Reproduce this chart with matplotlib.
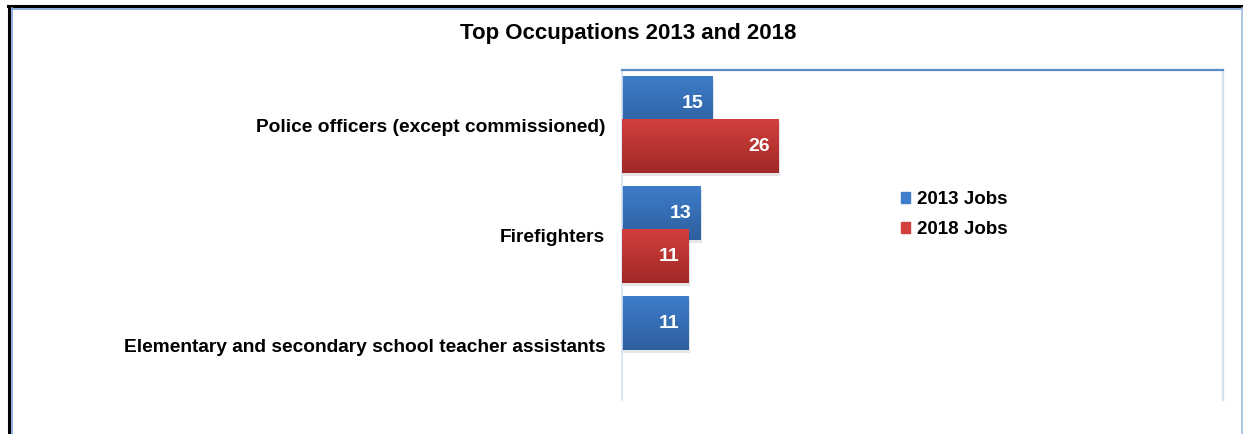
import matplotlib
matplotlib.use("Agg")
import matplotlib.pyplot as plt
import numpy as np
from matplotlib.lines import Line2D

categories = ["Police officers (except commissioned)", "Firefighters",
              "Elementary and secondary school teacher assistants"]
jobs_2013 = [15, 13, 11]
jobs_2018 = [26, 11, 0]
series_names = ["2013 Jobs", "2018 Jobs"]
title = "Top Occupations 2013 and 2018"

plt.rcParams['font.family'] = ['Liberation Sans', 'DejaVu Sans']

W, H = 1243, 434
fig = plt.figure(figsize=(W / 100, H / 100), dpi=100)
ax = fig.add_axes([622 / W, 1 - 400 / H, (1223 - 622) / W, (400 - 70) / H])

y = np.arange(len(categories))
h = 0.49
off = 0.195
blue_top, blue_bot = np.array([0.24, 0.49, 0.79]), np.array([0.18, 0.37, 0.62])
red_top, red_bot = np.array([0.82, 0.25, 0.24]), np.array([0.63, 0.16, 0.15])


def grad_bars(vals, ypos, ctop, cbot, z):
    for v, yy in zip(vals, ypos):
        if v <= 0:
            continue
        ax.barh(yy + 0.02, v + 0.3, height=h, color='#000000', alpha=0.10,
                zorder=z - 0.5, left=0)
        grad = np.linspace(0, 1, 64)[:, None, None]
        img = ctop[None, None, :] * (1 - grad) + cbot[None, None, :] * grad
        ax.imshow(img, extent=(0, v, yy + h / 2, yy - h / 2), aspect='auto',
                  zorder=z, interpolation='bilinear')


grad_bars(jobs_2013, y - off, blue_top, blue_bot, 2)
grad_bars(jobs_2018, y + off, red_top, red_bot, 3)

for v, yy in zip(jobs_2013, y - off):
    if v > 0:
        ax.text(v - 1.4, yy, str(v), ha='right', va='center', color='white',
                fontsize=14, fontweight='bold', zorder=5)
for v, yy in zip(jobs_2018, y + off):
    if v > 0:
        ax.text(v - 1.4, yy, str(v), ha='right', va='center', color='white',
                fontsize=14, fontweight='bold', zorder=5)

ax.set_xlim(0, 100)
ax.set_ylim(2.5, -0.5)
ax.set_yticks(y)
ax.set_yticklabels(categories, fontsize=13.8, fontweight='bold')
ax.tick_params(axis='y', length=0, pad=12)
ax.set_xticks([])
ax.spines['bottom'].set_visible(False)
ax.spines['top'].set_color('#5b8cc6')
ax.spines['top'].set_linewidth(1.6)
ax.spines['right'].set_color('#d6e2f2')
ax.spines['right'].set_linewidth(1.6)
ax.spines['left'].set_color('#d6e2f2')
ax.spines['left'].set_linewidth(1.2)

handles = [plt.Rectangle((0, 0), 1, 1, color=tuple(blue_top)),
           plt.Rectangle((0, 0), 1, 1, color=tuple(red_top))]
fig.legend(handles, series_names, loc='upper left',
           bbox_to_anchor=(884 / W, 1 - 174 / H), frameon=False,
           prop={'size': 13.5, 'weight': 'bold'}, handlelength=0.5,
           handleheight=0.5, handletextpad=0.35, labelspacing=0.7)

fig.text(628 / W, 1 - 33 / H, title, ha='center', va='center',
         fontsize=16, fontweight='bold')

fig.add_artist(Line2D([9 / W, 9 / W], [0, 1 - 6 / H], color='black', lw=2.2,
                      transform=fig.transFigure))
fig.add_artist(Line2D([8 / W, 1], [1 - 6 / H, 1 - 6 / H], color='black', lw=2.2,
                      transform=fig.transFigure))
fig.add_artist(Line2D([11.5 / W, 11.5 / W], [0, 1 - 8 / H], color='#7aa3d6', lw=1.2,
                      transform=fig.transFigure))
fig.add_artist(Line2D([11.5 / W, 1242 / W], [1 - 8.5 / H, 1 - 8.5 / H], color='#7aa3d6',
                      lw=1.2, transform=fig.transFigure))
fig.add_artist(Line2D([1242 / W, 1242 / W], [0, 1 - 8 / H], color='#9dbbe0', lw=1.2,
                      transform=fig.transFigure))

fig.savefig("out.png", dpi=100)
